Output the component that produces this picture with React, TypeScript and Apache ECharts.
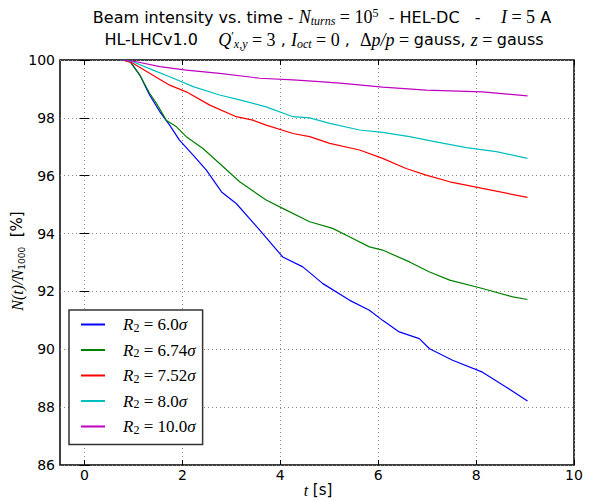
import React, { useEffect, useRef } from "react";
import * as echarts from "echarts";

// ---- data (t [s], N(t)/N1000 [%]) ----
const legendValues = ["6.0", "6.74", "7.52", "8.0", "10.0"];
const lineColors = ["#0000ff", "#008000", "#ff0000", "#00bfbf", "#bf00bf"];

const r2_60 = [
  [0.78, 100], [0.93, 99.95], [1.13, 99.48], [1.33, 98.79], [1.54, 98.21], [1.74, 97.75],
  [1.94, 97.23], [2.22, 96.71], [2.49, 96.19], [2.8, 95.44], [3.1, 95.04], [3.58, 94.12],
  [4.05, 93.19], [4.46, 92.85], [4.87, 92.27], [5.41, 91.7], [5.82, 91.35], [6.09, 91.0],
  [6.43, 90.6], [6.84, 90.37], [7.05, 90.02], [7.52, 89.62], [8.13, 89.21], [8.61, 88.7],
  [9.05, 88.21],
];
const r2_674 = [
  [0.78, 100], [0.93, 99.95], [1.13, 99.48], [1.33, 98.85], [1.47, 98.5], [1.67, 97.92],
  [1.88, 97.69], [2.08, 97.35], [2.42, 96.94], [2.76, 96.42], [3.17, 95.79], [3.71, 95.16],
  [4.05, 94.87], [4.6, 94.41], [5.07, 94.18], [5.41, 93.89], [5.82, 93.54], [6.09, 93.43],
  [6.64, 93.02], [7.05, 92.67], [7.46, 92.39], [8.13, 92.1], [8.75, 91.81], [9.05, 91.72],
];
const r2_752 = [
  [0.78, 100], [0.99, 99.89], [1.33, 99.54], [1.74, 99.13], [2.08, 98.9], [2.56, 98.44],
  [3.1, 98.04], [3.44, 97.92], [3.71, 97.75], [4.26, 97.46], [4.6, 97.35], [5.01, 97.12],
  [5.62, 96.89], [6.09, 96.6], [6.57, 96.25], [6.98, 96.02], [7.46, 95.79], [8.13, 95.56],
  [9.05, 95.25],
];
const r2_80 = [
  [0.78, 100], [0.99, 99.94], [1.4, 99.65], [1.74, 99.42], [2.22, 99.08], [2.76, 98.79],
  [3.17, 98.62], [3.71, 98.38], [4.26, 98.04], [4.6, 98.0], [5.01, 97.81], [5.62, 97.58],
  [6.09, 97.5], [6.64, 97.35], [7.18, 97.17], [7.8, 96.97], [8.41, 96.83], [9.05, 96.6],
];
const r2_100 = [
  [0.78, 100], [1.06, 99.94], [1.54, 99.77], [2.08, 99.65], [2.76, 99.54], [3.58, 99.37],
  [4.26, 99.31], [4.8, 99.25], [5.28, 99.19], [6.09, 99.06], [6.98, 98.96], [8.13, 98.9],
  [9.05, 98.76],
];
const seriesData = [r2_60, r2_674, r2_752, r2_80, r2_100];

const xTicks = [0, 2, 4, 6, 8, 10];
const xMin = -0.5;
const xMax = 10;
const yMin = 86;
const yMax = 100;
const yStep = 2;

const SANS = "DejaVu Sans";
const SERIF = "Liberation Serif";

const titleRich = {
  t: { fontFamily: SANS, fontSize: 16, lineHeight: 20, fill: "#000", color: "#000" },
  m: { fontFamily: SERIF, fontStyle: "italic", fontSize: 18, lineHeight: 20, fill: "#000", color: "#000" },
  r: { fontFamily: SERIF, fontSize: 18, lineHeight: 20, fill: "#000", color: "#000" },
  sb: { fontFamily: SERIF, fontStyle: "italic", fontSize: 12, lineHeight: 12, verticalAlign: "bottom", fill: "#000", color: "#000" },
  sp: { fontFamily: SERIF, fontSize: 12, lineHeight: 12, verticalAlign: "top", fill: "#000", color: "#000" },
};

export default function App() {
  const ref = useRef<HTMLDivElement>(null);
  useEffect(() => {
    const chart = echarts.init(ref.current!, null, { renderer: "svg" });
    const names = legendValues.map((v) => "R2=" + v + "σ");
    const tickStyle = { color: "#000", width: 1 };
    const gridLine = { show: true, lineStyle: { color: "#888", width: 1, type: [1, 3] as any } };
    chart.setOption({
      animation: false,
      backgroundColor: "#fff",
      grid: { left: 60, top: 60, width: 514, height: 405, show: true, borderColor: "#000", borderWidth: 1.5, backgroundColor: "transparent" },
      xAxis: [
        {
          type: "value", min: xMin, max: xMax, position: "bottom",
          axisLine: { show: false },
          axisTick: { show: true, inside: true, length: 5, customValues: xTicks, lineStyle: tickStyle },
          axisLabel: { customValues: xTicks, fontSize: 14, fontFamily: SANS, color: "#000", margin: 3 },
          splitLine: gridLine,
        },
        {
          type: "value", min: xMin, max: xMax, position: "top",
          axisLine: { show: false },
          axisTick: { show: true, inside: true, length: 5, customValues: xTicks, lineStyle: tickStyle },
          axisLabel: { show: false, customValues: xTicks },
          splitLine: { show: false },
        },
      ],
      yAxis: [
        {
          type: "value", min: yMin, max: yMax, interval: yStep, position: "left",
          axisLine: { show: false },
          axisTick: { show: true, inside: true, length: 5, lineStyle: tickStyle },
          axisLabel: { fontSize: 14, fontFamily: SANS, color: "#000", margin: 5 },
          splitLine: gridLine,
        },
        {
          type: "value", min: yMin, max: yMax, interval: yStep, position: "right",
          axisLine: { show: false },
          axisTick: { show: true, inside: true, length: 5, lineStyle: tickStyle },
          axisLabel: { show: false },
          splitLine: { show: false },
        },
      ],
      legend: {
        orient: "vertical", left: 69, top: 310,
        padding: [6, 7, 9, 12],
        itemGap: 8, itemWidth: 24, itemHeight: 2, icon: "rect",
        borderColor: "#333", borderWidth: 1.5, backgroundColor: "#fff", borderRadius: 0,
        data: names,
        formatter: (name: string) => {
          const v = name.replace("R2=", "").replace("σ", "");
          return `{r0|R}{s|2}{n| = ${v}}{i|σ}`;
        },
        textStyle: {
          color: "#000",
          rich: {
            r0: { fontFamily: SERIF, fontStyle: "italic", fontSize: 17, lineHeight: 18, padding: [0, 0, 0, 13] },
            i: { fontFamily: SERIF, fontStyle: "italic", fontSize: 17, lineHeight: 18 },
            n: { fontFamily: SERIF, fontSize: 17, lineHeight: 18 },
            s: { fontFamily: SERIF, fontSize: 12, lineHeight: 11, verticalAlign: "bottom" },
          },
        },
      },
      series: seriesData.map((d, i) => ({
        name: names[i], type: "line", data: d, xAxisIndex: 0, yAxisIndex: 0,
        showSymbol: false, symbol: "none", color: lineColors[i],
        lineStyle: { color: lineColors[i], width: 1.2 },
      })),
      graphic: [
        {
          type: "text", x: 322, y: 17, z: 10,
          style: {
            text: "{t|Beam intensity vs. time - }{m|N}{sb|turns}{r| = 10}{sp|5}{t|  - HEL-DC   -    }{m|I}{r| = 5}{t| A}",
            rich: titleRich, align: "center", verticalAlign: "middle", textAlign: "center", textVerticalAlign: "middle",
          },
        },
        {
          type: "text", x: 324, y: 39.5, z: 10,
          style: {
            text: "{t|HL-LHCv1.0    }{m|Q}{sp|′}{sb|x,y}{r| = 3}{t| , }{m|I}{sb|oct}{r| = 0}{t| ,  }{r|Δ}{m|p/p}{r| = }{t|gauss, }{m|z}{r| = }{t|gauss}",
            rich: titleRich, align: "center", verticalAlign: "middle", textAlign: "center", textVerticalAlign: "middle",
          },
        },
        {
          type: "text", x: 17, y: 261, rotation: Math.PI / 2, z: 10,
          style: {
            text: "{m|N(t)/N}{sb|1000}{t|  [%]}",
            rich: {
              t: { fontFamily: SANS, fontSize: 15, lineHeight: 18, fill: "#000", color: "#000" },
              m: { fontFamily: SERIF, fontStyle: "italic", fontSize: 16, lineHeight: 18, fill: "#000", color: "#000" },
              sb: { fontFamily: SANS, fontSize: 9, lineHeight: 10, verticalAlign: "bottom", fill: "#000", color: "#000" },
            },
            align: "center", verticalAlign: "middle", textAlign: "center", textVerticalAlign: "middle",
          },
        },
        {
          type: "text", x: 318, y: 490, z: 10,
          style: {
            text: "{m|t}{t| [s]}",
            rich: {
              t: { fontFamily: SANS, fontSize: 15, lineHeight: 18, fill: "#000", color: "#000" },
              m: { fontFamily: SERIF, fontStyle: "italic", fontSize: 16, lineHeight: 18, fill: "#000", color: "#000" },
            },
            align: "center", verticalAlign: "middle", textAlign: "center", textVerticalAlign: "middle",
          },
        },
      ],
    });
    return () => chart.dispose();
  }, []);
  return (
    <div
      ref={ref}
      style={{ position: "fixed", left: 0, top: 0, width: 593, height: 501, background: "#fff" }}
    />
  );
}
